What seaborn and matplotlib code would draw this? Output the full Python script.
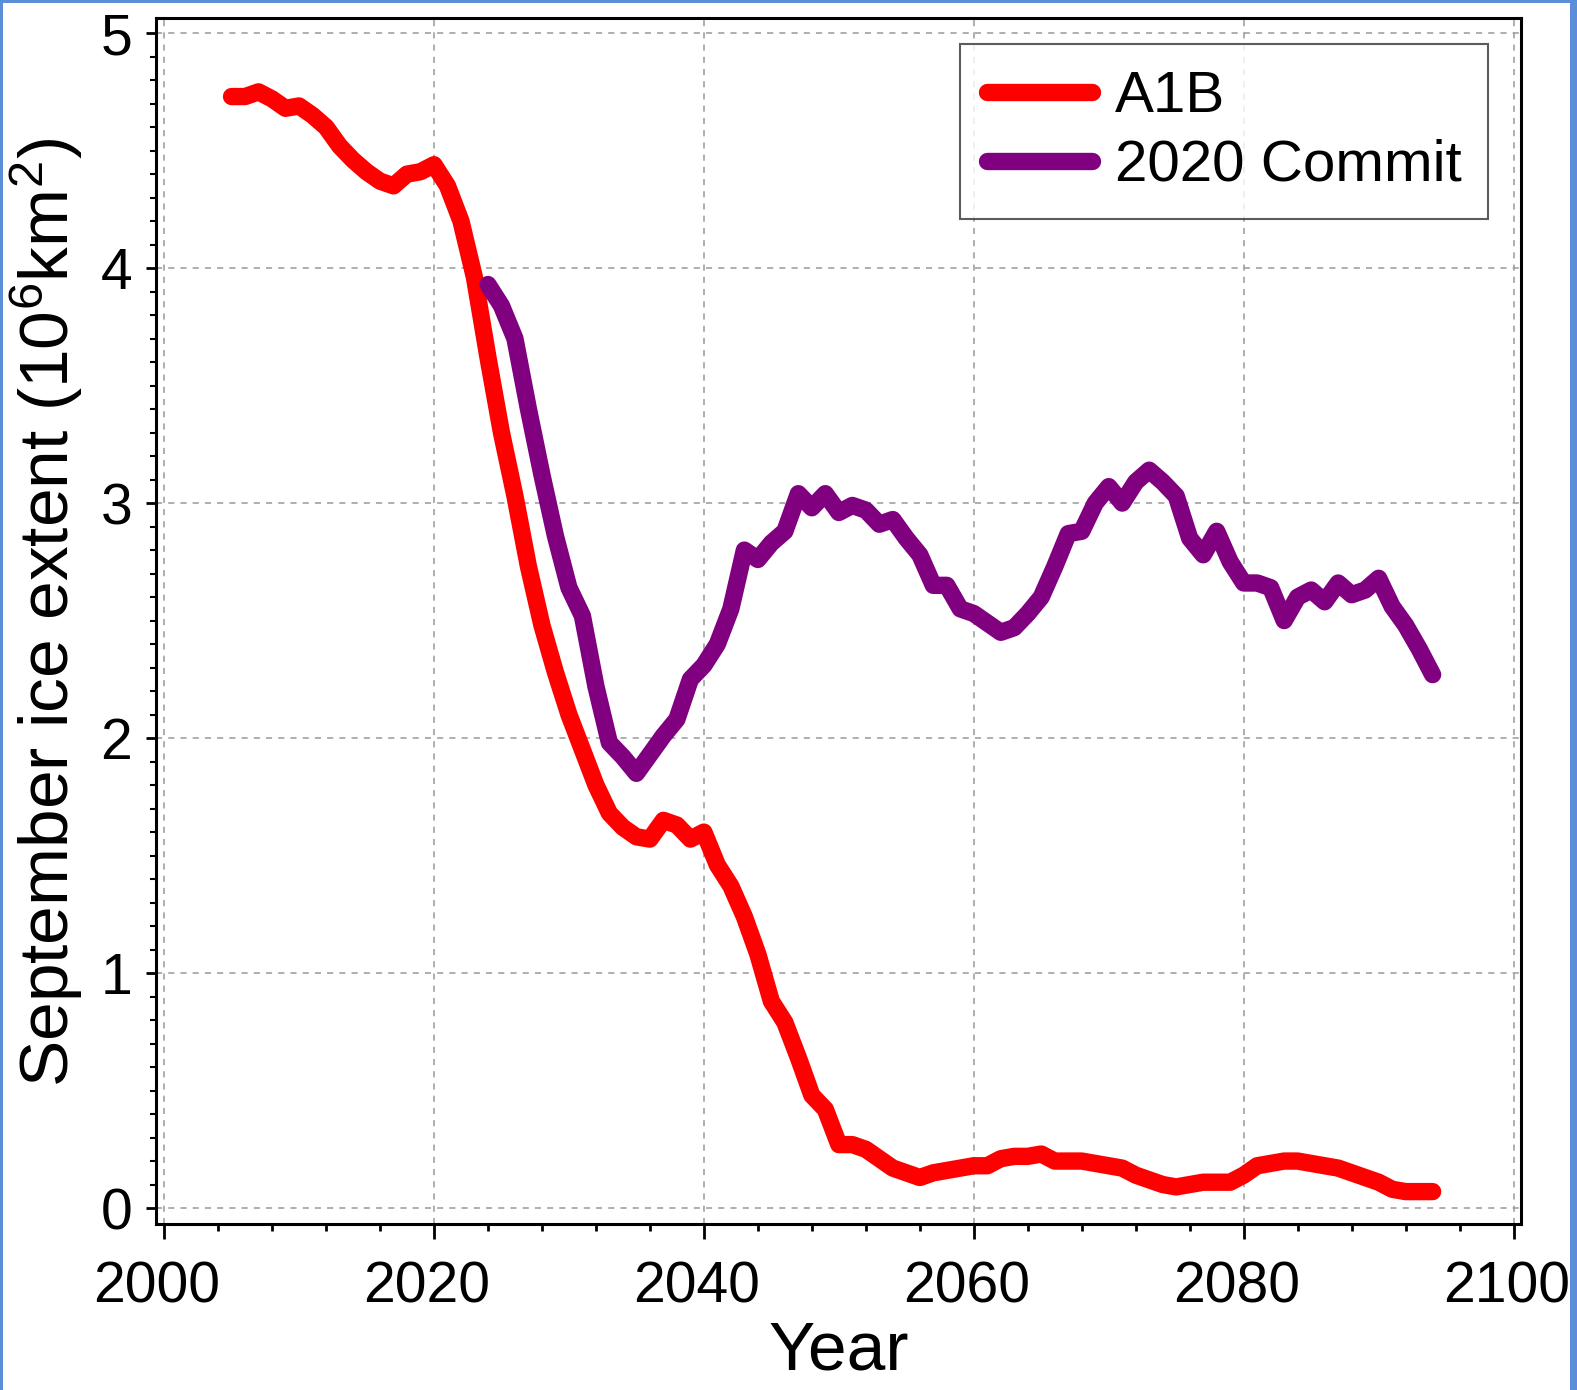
import matplotlib
matplotlib.use("Agg")
import matplotlib.pyplot as plt
import matplotlib.ticker as mticker
from matplotlib.patches import Rectangle
from matplotlib.transforms import ScaledTranslation
import seaborn as sns
import pandas as pd

# September ice extent, 10^6 km^2
a1b_years = list(range(2005, 2095))
a1b_extent = [
    4.73, 4.73, 4.75, 4.72, 4.68, 4.69, 4.65, 4.60, 4.52, 4.46,
    4.41, 4.37, 4.35, 4.40, 4.41, 4.44, 4.35, 4.20, 3.96, 3.62,
    3.30, 3.03, 2.73, 2.48, 2.28, 2.10, 1.95, 1.80, 1.68, 1.62,
    1.58, 1.57, 1.65, 1.63, 1.57, 1.60, 1.46, 1.37, 1.24, 1.08,
    0.88, 0.79, 0.64, 0.48, 0.42, 0.27, 0.27, 0.25, 0.21, 0.17,
    0.15, 0.13, 0.15, 0.16, 0.17, 0.18, 0.18, 0.21, 0.22, 0.22,
    0.23, 0.20, 0.20, 0.20, 0.19, 0.18, 0.17, 0.14, 0.12, 0.10,
    0.09, 0.10, 0.11, 0.11, 0.11, 0.14, 0.18, 0.19, 0.20, 0.20,
    0.19, 0.18, 0.17, 0.15, 0.13, 0.11, 0.08, 0.07, 0.07, 0.07,
]

commit_years = list(range(2024, 2095))
commit_extent = [
    3.93, 3.84, 3.70, 3.40, 3.12, 2.86, 2.64, 2.52, 2.22, 1.98,
    1.92, 1.85, 1.93, 2.01, 2.08, 2.25, 2.31, 2.40, 2.55, 2.80,
    2.76, 2.83, 2.88, 3.04, 2.98, 3.04, 2.96, 2.99, 2.97, 2.91,
    2.93, 2.85, 2.78, 2.65, 2.65, 2.55, 2.53, 2.49, 2.45, 2.47,
    2.53, 2.60, 2.73, 2.87, 2.88, 3.00, 3.07, 3.00, 3.09, 3.14,
    3.09, 3.03, 2.85, 2.78, 2.88, 2.75, 2.66, 2.66, 2.64, 2.50,
    2.60, 2.63, 2.58, 2.66, 2.61, 2.63, 2.68, 2.56, 2.48, 2.38,
    2.27,
]

a1b = pd.DataFrame({"year": a1b_years, "extent": a1b_extent})
commit = pd.DataFrame({"year": commit_years, "extent": commit_extent})

sns.set_style("ticks")
plt.rcParams["font.family"] = ["Liberation Sans", "DejaVu Sans"]
plt.rcParams["mathtext.fontset"] = "custom"
plt.rcParams["mathtext.rm"] = "Liberation Sans"
plt.rcParams["text.color"] = "black"
plt.rcParams["axes.labelcolor"] = "black"

fig = plt.figure(figsize=(15.77, 13.90), dpi=100)
ax = fig.add_axes([0.0989, 0.1194, 0.8656, 0.8676])

sns.lineplot(data=a1b, x="year", y="extent", color="#ff0000",
             label="A1B", solid_capstyle="round", solid_joinstyle="round", ax=ax)
sns.lineplot(data=commit, x="year", y="extent", color="#800080",
             label="2020 Commit", solid_capstyle="round", ax=ax)
for line in ax.lines:
    line.set_linewidth(12.5)

ax.set_xlim(1999.4, 2100.55)
ax.set_ylim(-0.068, 5.064)
ax.set_xticks(range(2000, 2101, 20))
ax.set_yticks(range(0, 6))
ax.xaxis.set_minor_locator(mticker.MultipleLocator(4))
ax.yaxis.set_minor_locator(mticker.MultipleLocator(0.1))

ax.grid(True, which="major", linestyle=(0, (4, 4)), color="#999999", lw=1.1)
ax.set_axisbelow(True)

for s in ax.spines.values():
    s.set_color("black")
    s.set_linewidth(2.2)

ax.tick_params(axis="x", which="major", length=11, width=2, labelsize=41, pad=15, colors="black")
ax.tick_params(axis="x", which="minor", length=5, width=2, colors="black")
ax.tick_params(axis="y", which="major", length=7, width=2, labelsize=41, pad=10, colors="black")
ax.tick_params(axis="y", which="minor", length=4, width=1.5, colors="black")

# the year labels sit a little left of their ticks
shift = ScaledTranslation(-7 / 100, 0, fig.dpi_scale_trans)
for lab in ax.get_xticklabels():
    lab.set_transform(lab.get_transform() + shift)

ax.set_xlabel("Year", fontsize=50)
ax.set_ylabel(r"September ice extent (10$\mathregular{^6}$km$\mathregular{^2}$)", fontsize=50)
ax.xaxis.set_label_coords(0.5, -0.079)
ax.yaxis.set_label_coords(-0.052, 0.507)

leg = ax.legend(loc="upper right", bbox_to_anchor=(0.9758, 0.9784), borderaxespad=0,
                fontsize=42, frameon=True, fancybox=False, edgecolor="#333333",
                handlelength=1.8, handletextpad=0.4, labelspacing=0.25, borderpad=0.45)
leg.get_frame().set_linewidth(1.5)

# light blue frame around the figure
blue = "#5b8dd9"
fig.add_artist(Rectangle((0, 0), 3 / 1577, 1, transform=fig.transFigure, color=blue, lw=0))
fig.add_artist(Rectangle((0, 1 - 3 / 1390), 1, 3 / 1390, transform=fig.transFigure, color=blue, lw=0))
fig.add_artist(Rectangle((1 - 7 / 1577, 0), 7 / 1577, 1, transform=fig.transFigure, color=blue, lw=0))

fig.savefig("out.png", dpi=100)
